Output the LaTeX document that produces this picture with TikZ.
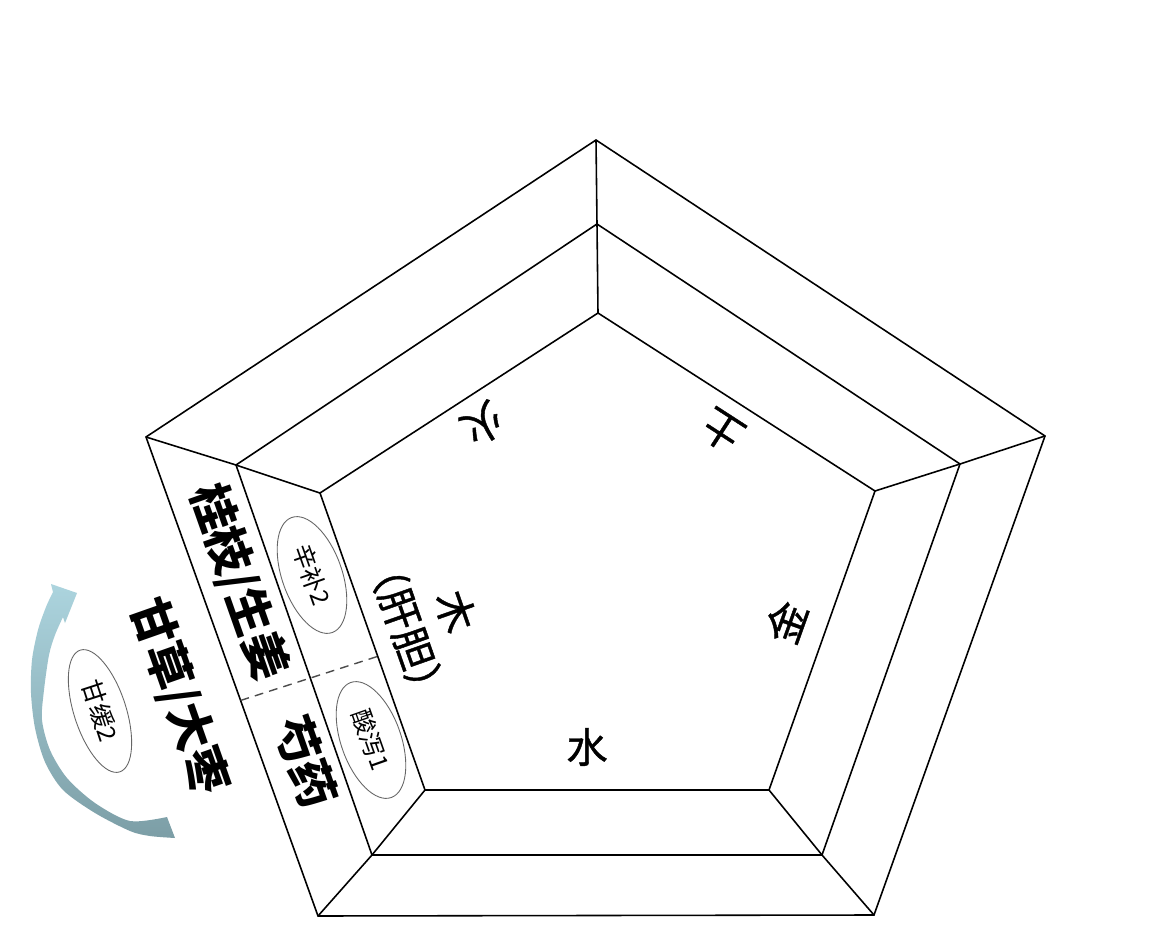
\documentclass[tikz,border=0pt]{standalone}
\usepackage{fontspec}
\setmainfont{Noto Sans CJK SC}
\newfontfamily\elemfont[FakeBold=1]{Noto Sans CJK SC}
\usetikzlibrary{shapes.geometric,calc}
\definecolor{arrowtop}{RGB}{172,212,222}
\definecolor{arrowbot}{RGB}{124,158,166}
\tikzset{
	edge/.style={line width=0.9pt},
	elem/.style={font=\elemfont\fontsize{23.5}{29.5}\selectfont, align=center, inner sep=0pt},
	herb/.style={font=\fontsize{26.5}{30}\selectfont\bfseries, inner sep=0pt},
	flavour/.style={shape=ellipse, draw=black!60, line width=0.5pt, minimum width=2.44cm, minimum height=1.2cm, inner sep=0pt, font=\fontsize{14}{16}\selectfont},
}
\begin{document}
\begin{tikzpicture}[x=0.02cm,y=-0.02cm]
		\useasboundingbox[fill=white] (0,0) rectangle (1164,946);
		
		\coordinate (oT) at (596,140);
		\coordinate (oR) at (1045,436);
		\coordinate (oBR) at (874,915);
		\coordinate (oBL) at (318,916);
		\coordinate (oL) at (146,437);
		
		\coordinate (mT) at (597,224);
		\coordinate (mR) at (960,464);
		\coordinate (mBR) at (822,855);
		\coordinate (mBL) at (372,855);
		\coordinate (mL) at (236,465);
		
		\coordinate (iT) at (598,313);
		\coordinate (iR) at (875,491);
		\coordinate (iBR) at (769,790);
		\coordinate (iBL) at (425,790);
		\coordinate (iL) at (320,493);
		
		\draw[edge] (oT) -- (oR) -- (oBR) -- (oBL) -- (oL) -- cycle;
		\draw[edge] (mT) -- (mR) -- (mBR) -- (mBL) -- (mL) -- cycle;
		\draw[edge] (iT) -- (iR) -- (iBR) -- (iBL) -- (iL) -- cycle;
		
		\draw[edge] (oT) -- (mT) -- (iT);
		\draw[edge] (oR) -- (mR) -- (iR);
		\draw[edge] (oBR) -- (mBR) -- (iBR);
		\draw[edge] (oBL) -- (mBL) -- (iBL);
		\draw[edge] (oL) -- (mL) -- (iL);
		
		\coordinate (cutO) at ($(oL)!0.55!(oBL)$);
		\coordinate (cutI) at ($(iL)!0.55!(iBL)$);
		\draw[black!70, line width=0.8pt, dash pattern=on 5pt off 3.5pt] (cutO) -- (cutI);
		
		\node[elem, rotate=-147.2] (huo) at (483,424) {火};
		\node[elem, rotate=147.1] (tu) at (722,431) {土};
		\node[elem, rotate=70.3] (jin) at (786,622) {金};
		\node[elem] (shui) at (587,747) {水};
		\node[elem, rotate=-70.6] (mu) at (431,620) {木\\（肝胆）};
		
		\node[herb, rotate=-70.6] (guizhi) at (239,582) {桂枝/生姜};
		\node[herb, rotate=-70.6] (shaoyao) at (306,762) {芍药};
		\node[flavour, rotate=-70.6] (xinbu) at (312,575) {辛补2};
		\node[flavour, rotate=-70.6] (suanxie) at (371,740) {酸泻1};
		
		\shade[top color=arrowtop, bottom color=arrowbot]
			plot[smooth] coordinates {(175,838) (150,836) (130,831) (95,813) (63,790) (45,762) (35,728) (31,693) (32,660) (38,630) (46,607) (53,592)}
			-- (51,584) -- (77,593) -- (65,623) -- (63,617)
			-- plot[smooth] coordinates {(63,617) (55,635) (49,655) (44,690) (42,720) (50,750) (67,778) (95,803) (130,821) (167,817)}
			-- cycle;
		\node[flavour, rotate=-72, minimum width=2.56cm, minimum height=1.04cm] (ganhuan) at (100,711) {甘缓2};
		\node[herb, rotate=-70.6] (gancao) at (179,697) {甘草/大枣};
	\end{tikzpicture}
\end{document}
